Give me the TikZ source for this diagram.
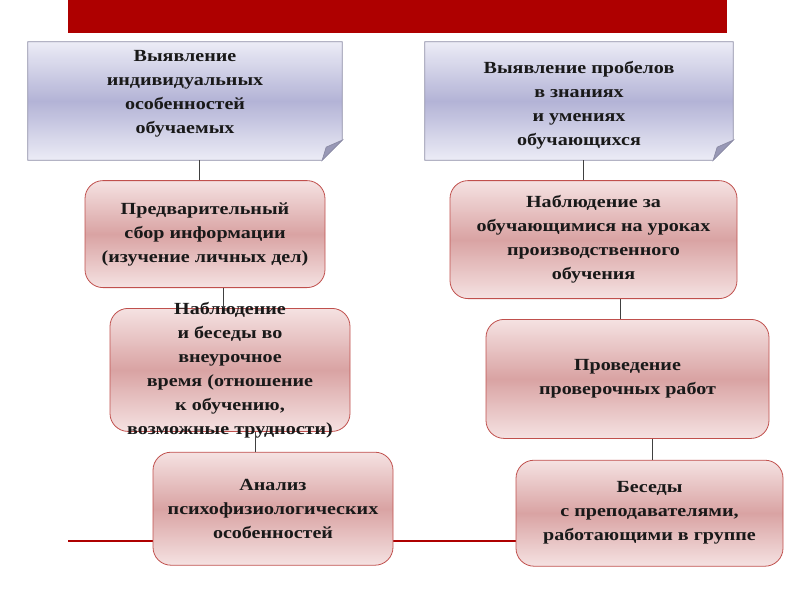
\documentclass[tikz,border=0pt]{standalone}
\usepackage{fontspec}
\setmainfont{Liberation Serif}[FakeStretch=1.18]
\usetikzlibrary{calc,positioning,backgrounds}
\definecolor{barred}{HTML}{AE0000}
\definecolor{boxred}{HTML}{C0504D}
\definecolor{pinkmid}{HTML}{D9A3A3}
\definecolor{pinklight}{HTML}{F5E2E2}
\definecolor{lavmid}{HTML}{B3B3D6}
\definecolor{lavlight}{HTML}{ECECF6}
\definecolor{lavgray}{HTML}{8C8CA6}
\definecolor{linkgray}{HTML}{404040}

\begin{document}
\begin{tikzpicture}[
    x=1pt, y=-1pt,
    font=\fontsize{17}{24}\selectfont\bfseries,
    goalbox/.style={rectangle, align=center, text=black!90, inner sep=0pt},
    stepbox/.style={rectangle, rounded corners=18pt, draw=boxred, line width=0.8pt,
      top color=pinklight, bottom color=pinklight, middle color=pinkmid,
      align=center, inner sep=0pt, text=black!90},
    steptext/.style={align=center, inner sep=0pt, text=black!90},
    link/.style={draw=linkgray, line width=0.8pt}
  ]
    \useasboundingbox (0,0) rectangle (800,600);
    \fill[barred] (68,0) rectangle (727,33);

    % two goals
    \node[goalbox, minimum width=314pt, minimum height=118pt] (b1) at (185,101)
      {Выявление\\индивидуальных\\особенностей\\обучаемых\\[-6pt]};
    \node[goalbox, minimum width=308pt, minimum height=118pt] (b2) at (579,101)
      {\rule{0pt}{20pt}Выявление пробелов\\в знаниях\\и умениях\\обучающихся};

    % left column
    \node[stepbox, minimum width=240pt, minimum height=107pt, below=20pt of b1, xshift=20pt] (l1)
      {Предварительный\\сбор информации\\(изучение личных дел)};
    \node[stepbox, minimum width=240pt, minimum height=123pt, below=20pt of l1, xshift=25pt] (l2) {};
    \node[steptext] (l2t) at (l2)
      {Наблюдение\\и беседы во\\внеурочное\\время (отношение\\к обучению,\\возможные трудности)};
    \node[stepbox, minimum width=240pt, minimum height=113pt, below=20pt of l2, xshift=43pt] (l3)
      {Анализ\\психофизиологических\\особенностей};

    % right column
    \node[stepbox, minimum width=287pt, minimum height=118pt, below=20pt of b2, xshift=14.5pt] (r1)
      {Наблюдение за\\обучающимися на уроках\\производственного\\обучения};
    \node[stepbox, minimum width=283pt, minimum height=119pt, below=20pt of r1, xshift=34pt] (r2)
      {Проведение\\проверочных работ};
    \node[stepbox, minimum width=267pt, minimum height=106pt, below=21pt of r2, xshift=22pt] (r3)
      {Беседы\\с преподавателями,\\работающими в группе};

    \coordinate (rl) at (68,541);

    \begin{scope}[on background layer]
      \draw[barred, line width=1.5pt] (rl) -- (rl -| r3.west);
      \foreach \b in {b1,b2} {
        \shade[draw=lavgray, line width=0.8pt, top color=lavlight, bottom color=lavlight, middle color=lavmid]
          (\b.north west) -- (\b.north east) -- ([yshift=20pt]\b.south east)
          -- ([xshift=-20pt]\b.south east) -- (\b.south west) -- cycle;
        \filldraw[draw=lavgray, fill=lavmid!85!black, line width=0.8pt]
          ([yshift=20pt]\b.south east) -- ([xshift=-20pt]\b.south east)
          -- ([xshift=-16pt,yshift=13pt]\b.south east) -- cycle;
      }
    \end{scope}

    \draw[link] ([xshift=14pt]b1.south) -- ([xshift=14pt]b1.south |- l1.north);
    \draw[link] ([xshift=18pt]l1.south) -- ([xshift=18pt]l1.south |- l2.north);
    \draw[link] ([xshift=25pt]l2.south) -- ([xshift=25pt]l2.south |- l3.north);
    \draw[link] ([xshift=4pt]b2.south) -- ([xshift=4pt]b2.south |- r1.north);
    \draw[link] ([xshift=26.5pt]r1.south) -- ([xshift=26.5pt]r1.south |- r2.north);
    \draw[link] ([xshift=24.5pt]r2.south) -- ([xshift=24.5pt]r2.south |- r3.north);
  \end{tikzpicture}
\end{document}
